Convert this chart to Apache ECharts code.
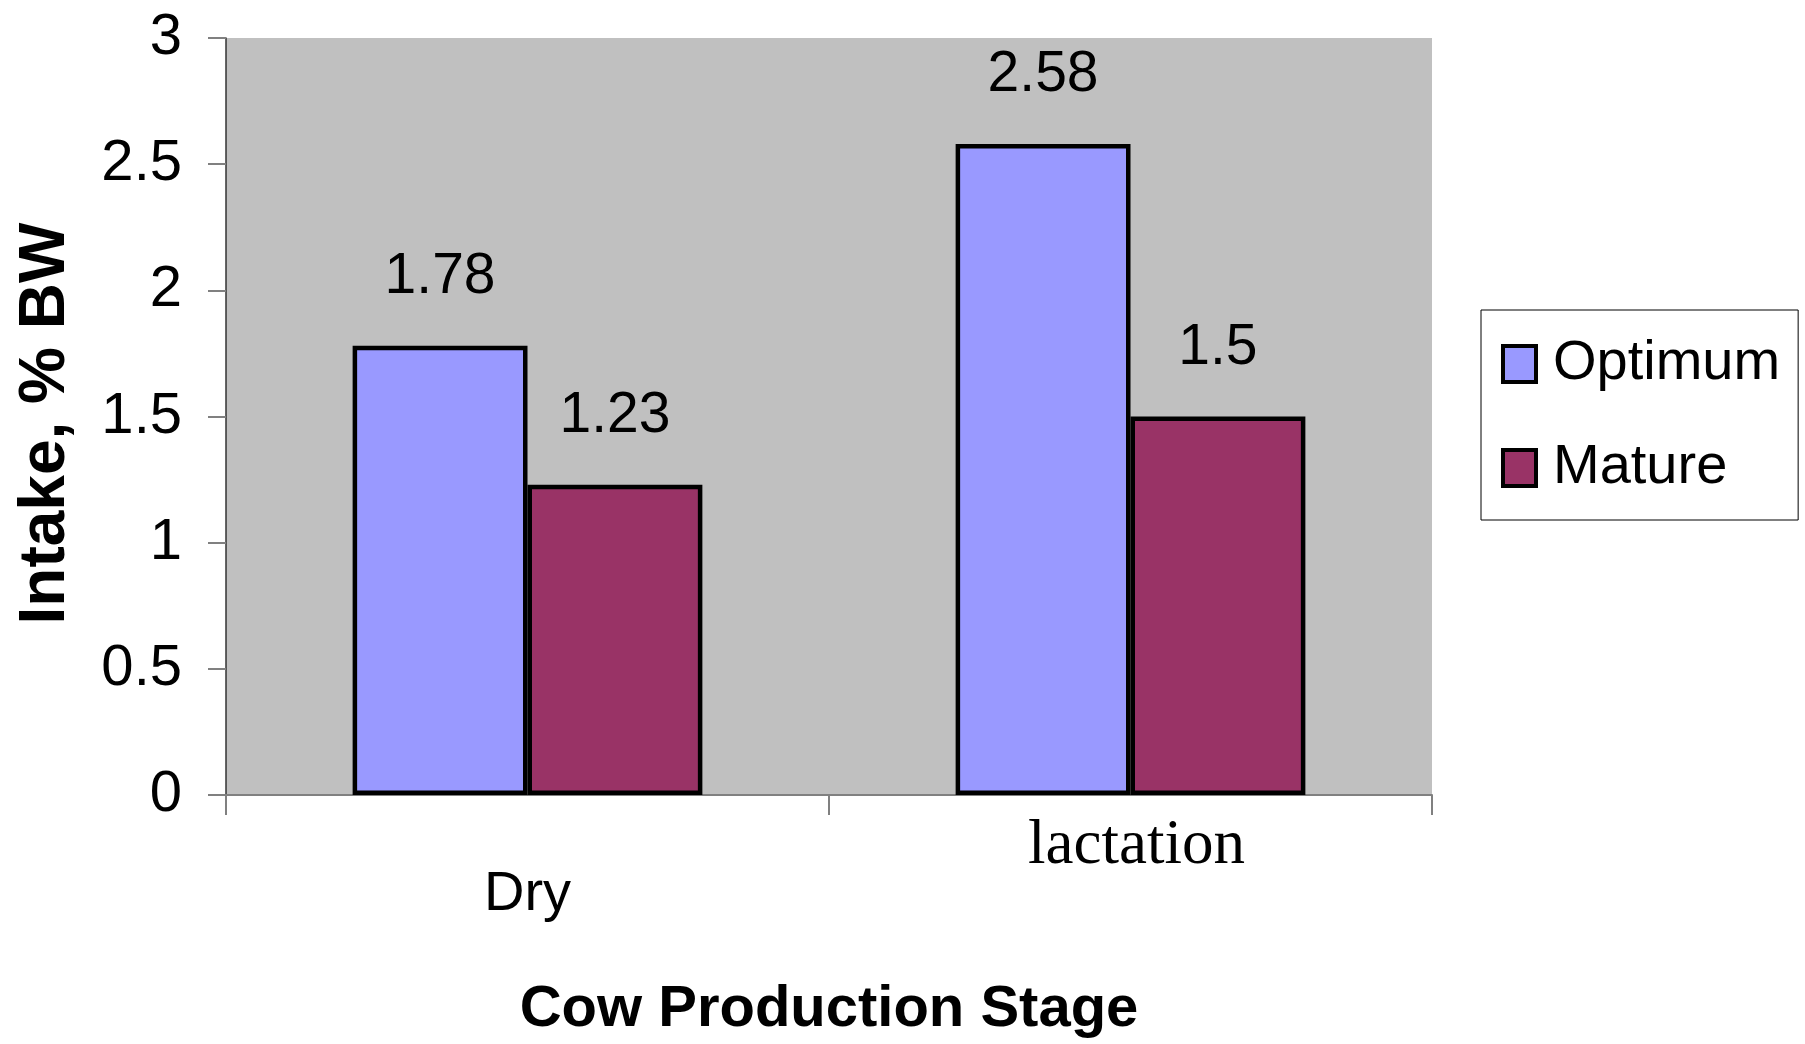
<!DOCTYPE html>
<html>
<head>
<meta charset="utf-8">
<title>Intake by cow production stage</title>
<script src="https://cdn.jsdelivr.net/npm/echarts@6/dist/echarts.min.js"></script>
<style>
  html, body { margin: 0; padding: 0; background: #ffffff; }
  #chart { width: 1805px; height: 1044px; }
</style>
</head>
<body>
<div id="chart"></div>
<script>
// Production stages on the x axis
const stages = ['Dry', 'lactation'];
// Intake as % of body weight
const optimumValues = [1.78, 2.58];
const matureValues = [1.23, 1.5];
const seriesNames = ['Optimum', 'Mature'];

const chart = echarts.init(document.getElementById('chart'));

const valueLabel = {
  show: true,
  position: 'top',
  distance: 40,
  color: '#000',
  fontFamily: 'Liberation Sans',
  fontSize: 57
};

chart.setOption({
  animation: false,
  backgroundColor: '#ffffff',
  grid: {
    left: 226, right: 373, top: 38, bottom: 247,
    containLabel: false,
    show: true,
    backgroundColor: '#c0c0c0',
    borderWidth: 0
  },
  legend: {
    orient: 'vertical',
    left: 1481,
    top: 310,
    padding: [26, 18, 24, 20],
    itemGap: 48,
    itemWidth: 33,
    itemHeight: 36,
    icon: 'rect',
    itemStyle: { borderColor: '#000', borderWidth: 4 },
    backgroundColor: '#ffffff',
    borderColor: '#000',
    borderWidth: 1,
    borderRadius: 0,
    textStyle: {
      color: '#000',
      fontFamily: 'Liberation Sans',
      fontSize: 56,
      padding: [0, 0, 0, 12]
    },
    data: seriesNames
  },
  xAxis: {
    type: 'category',
    data: stages,
    name: 'Cow Production Stage',
    nameLocation: 'middle',
    nameGap: 186,
    nameTextStyle: {
      color: '#000',
      fontFamily: 'Liberation Sans',
      fontWeight: 'bold',
      fontSize: 58
    },
    axisLine: { lineStyle: { color: '#808080', width: 2 } },
    axisTick: { show: true, alignWithLabel: false, length: 20, lineStyle: { color: '#808080', width: 2 } },
    axisLabel: {
      margin: 20,
      color: '#000',
      formatter: function (v) {
        return v === 'Dry' ? '{sans|' + v + '}' : '{serif|' + v + '}';
      },
      rich: {
        sans: {
          fontFamily: 'Liberation Sans',
          fontSize: 56,
          padding: [52, 0, 0, 0],
          color: '#000'
        },
        serif: {
          fontFamily: 'Liberation Serif',
          fontSize: 63,
          padding: [0, 0, 0, 12],
          color: '#000'
        }
      }
    }
  },
  yAxis: {
    type: 'value',
    min: 0,
    max: 3,
    interval: 0.5,
    name: 'Intake, % BW',
    nameLocation: 'middle',
    nameRotate: 90,
    nameGap: 148,
    nameTextStyle: {
      color: '#000',
      fontFamily: 'Liberation Sans',
      fontWeight: 'bold',
      fontSize: 64,
      padding: [0, 14, 0, 0]
    },
    axisLine: { show: true, lineStyle: { color: '#333', width: 1.5 } },
    axisTick: { show: true, length: 18, lineStyle: { color: '#808080', width: 2 } },
    splitLine: { show: false },
    axisLabel: {
      margin: 44,
      color: '#000',
      fontFamily: 'Liberation Sans',
      fontSize: 58
    }
  },
  series: [
    {
      name: seriesNames[0],
      type: 'bar',
      data: optimumValues,
      barGap: '0%',
      barCategoryGap: '42%',
      itemStyle: { color: '#9999ff', borderColor: '#000', borderWidth: 4.5 },
      label: valueLabel
    },
    {
      name: seriesNames[1],
      type: 'bar',
      data: matureValues,
      barGap: '0%',
      barCategoryGap: '42%',
      itemStyle: { color: '#993366', borderColor: '#000', borderWidth: 4.5 },
      label: valueLabel
    }
  ]
});
</script>
</body>
</html>
